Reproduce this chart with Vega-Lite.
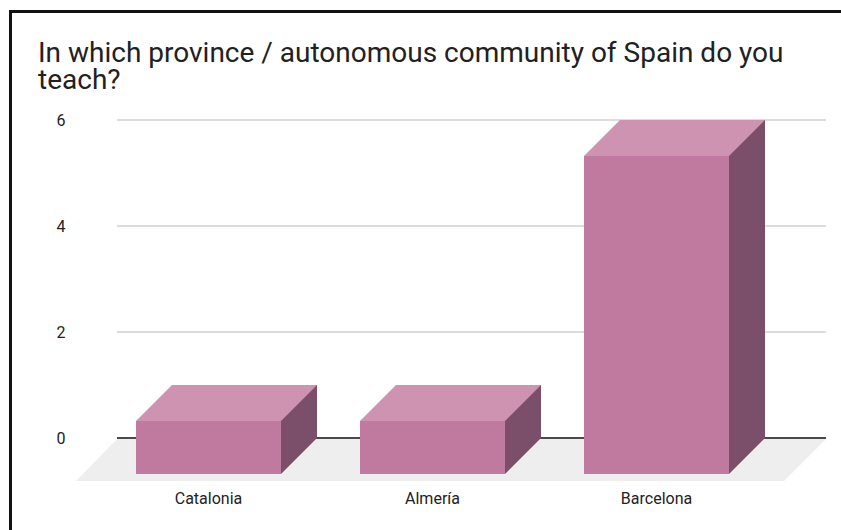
{
  "$schema": "https://vega.github.io/schema/vega-lite/v6.json",
  "autosize": {"type": "none"},
  "width": 831,
  "height": 519,
  "padding": {"left": 10, "top": 11, "right": 0, "bottom": 0},
  "background": "#ffffff",
  "title": {
    "text": ["In which province / autonomous community of Spain do you", "teach?"],
    "anchor": "start",
    "frame": "group",
    "offset": -84,
    "dx": 28,
    "fontSize": 28,
    "lineHeight": 27,
    "font": "Roboto",
    "fontWeight": "normal",
    "color": "#212121"
  },
  "config": {
    "view": {"stroke": null},
    "axis": {"grid": false, "ticks": false, "domain": false, "labelFont": "Roboto", "labelFontSize": 16, "labelColor": "#222222"},
    "axisX": {"offset": -40, "labelOffset": -36, "labelPadding": 0, "labelAngle": 0},
    "axisY": {"offset": -56, "labelPadding": 1, "tickCount": 3}
  },
  "datasets": {
    "answers": [
      {"name": "Catalonia", "value": 1},
      {"name": "Almería", "value": 1},
      {"name": "Barcelona", "value": 6}
    ],
    "grid": [{"g": 2}, {"g": 4}, {"g": 6}],
    "frame": [{"a": 0, "b": 0}]
  },
  "resolve": {"scale": {"x": "independent", "y": "independent"}},
  "layer": [
    {
      "data": {"name": "frame"},
      "mark": {"type": "point", "opacity": 0},
      "encoding": {
        "x": {"field": "a", "type": "quantitative", "title": null, "scale": {"domain": [0, 1]}, "axis": {"orient": "top", "offset": 0, "domain": true, "domainColor": "#111111", "domainWidth": 3, "domainCap": "square", "labels": false, "ticks": false, "grid": false}},
        "y": {"field": "b", "type": "quantitative", "title": null, "scale": {"domain": [0, 1]}, "axis": {"orient": "left", "offset": 0, "domain": true, "domainColor": "#111111", "domainWidth": 3, "domainCap": "square", "labels": false, "ticks": false, "grid": false}}
      }
    },
    {
      "layer": [
        {
          "data": {"name": "grid"},
          "mark": {"type": "rule", "color": "#dcdcdc", "strokeWidth": 2, "xOffset": -55, "x2Offset": 206},
          "encoding": {
            "y": {"field": "g", "type": "quantitative", "title": null, "axis": {"orient": "left"}, "scale": {"domain": [0, 6], "range": [427, 109], "nice": false}},
            "x": {"datum": "Catalonia", "type": "nominal", "bandPosition": 0, "title": null, "axis": {"orient": "bottom"}, "scale": {"domain": ["Catalonia", "Almería", "Barcelona"], "range": [162, 755], "paddingInner": 0.3527, "paddingOuter": 0}},
            "x2": {"datum": "Barcelona", "bandPosition": 0}
          }
        },
        {
          "data": {"values": [{"f": 0}]},
          "mark": {"type": "point", "shape": "M-350.5,0L358.5,0L315.5,43L-392.5,43Z", "size": 4, "filled": true, "fill": "#eeeeee", "opacity": 1, "strokeWidth": 0},
          "encoding": {
            "y": {"field": "f", "type": "quantitative", "title": null, "scale": {"domain": [0, 6], "range": [427, 109], "nice": false}},
            "x": {"datum": "Almería", "type": "nominal", "title": null, "scale": {"domain": ["Catalonia", "Almería", "Barcelona"], "range": [162, 755], "paddingInner": 0.3527, "paddingOuter": 0}}
          }
        },
        {
          "data": {"values": [{"f": 0}]},
          "mark": {"type": "rule", "color": "#4a4a4a", "strokeWidth": 2, "xOffset": -55, "x2Offset": 206},
          "encoding": {
            "y": {"field": "f", "type": "quantitative", "title": null, "scale": {"domain": [0, 6], "range": [427, 109], "nice": false}},
            "x": {"datum": "Catalonia", "type": "nominal", "bandPosition": 0, "title": null, "scale": {"domain": ["Catalonia", "Almería", "Barcelona"], "range": [162, 755], "paddingInner": 0.3527, "paddingOuter": 0}},
            "x2": {"datum": "Barcelona", "bandPosition": 0}
          }
        },
        {
          "data": {"name": "answers"},
          "mark": {"type": "bar", "width": 36, "xOffset": 54.5, "color": "#7b4f69"},
          "encoding": {
            "x": {"field": "name", "type": "nominal", "title": null, "scale": {"domain": ["Catalonia", "Almería", "Barcelona"], "range": [162, 755], "paddingInner": 0.3527, "paddingOuter": 0}},
            "y": {"field": "value", "type": "quantitative", "title": null, "scale": {"domain": [0, 6], "range": [427, 109], "nice": false}},
            "y2": {"datum": 0}
          }
        },
        {
          "data": {"name": "answers"},
          "mark": {"type": "point", "shape": "M36.5,0L72.5,0L36.5,36Z", "size": 4, "filled": true, "fill": "#7b4f69", "opacity": 1, "strokeWidth": 0},
          "encoding": {
            "x": {"field": "name", "type": "nominal", "title": null, "scale": {"domain": ["Catalonia", "Almería", "Barcelona"], "range": [162, 755], "paddingInner": 0.3527, "paddingOuter": 0}},
            "y": {"datum": 0, "type": "quantitative", "title": null, "scale": {"domain": [0, 6], "range": [427, 109], "nice": false}}
          }
        },
        {
          "data": {"name": "answers"},
          "mark": {"type": "point", "shape": "M-72.5,0L72.5,0L36.5,36L-108.5,36Z", "size": 4, "filled": true, "fill": "#cd93b0", "opacity": 1, "strokeWidth": 0},
          "encoding": {
            "x": {"field": "name", "type": "nominal", "title": null, "scale": {"domain": ["Catalonia", "Almería", "Barcelona"], "range": [162, 755], "paddingInner": 0.3527, "paddingOuter": 0}},
            "y": {"field": "value", "type": "quantitative", "title": null, "scale": {"domain": [0, 6], "range": [427, 109], "nice": false}}
          }
        },
        {
          "data": {"name": "answers"},
          "mark": {"type": "bar", "width": 145, "xOffset": -36, "yOffset": 36, "y2Offset": 36, "color": "#c17a9f"},
          "encoding": {
            "x": {"field": "name", "type": "nominal", "title": null, "scale": {"domain": ["Catalonia", "Almería", "Barcelona"], "range": [162, 755], "paddingInner": 0.3527, "paddingOuter": 0}},
            "y": {"field": "value", "type": "quantitative", "title": null, "scale": {"domain": [0, 6], "range": [427, 109], "nice": false}},
            "y2": {"datum": 0}
          }
        }
      ]
    }
  ]
}
